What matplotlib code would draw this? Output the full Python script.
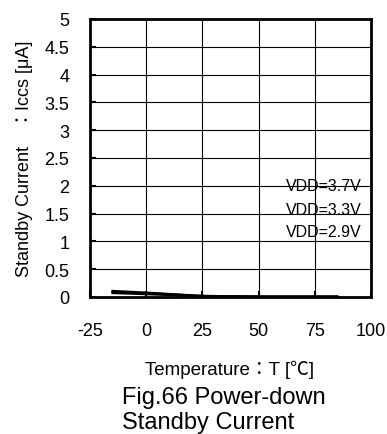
import matplotlib
matplotlib.use("Agg")
import matplotlib.pyplot as plt

plt.rcParams["font.family"] = ["Liberation Sans", "Noto Sans CJK JP", "DejaVu Sans"]
plt.rcParams["axes.unicode_minus"] = False

# 温度 [℃]
temps = [-15, 0, 25, 50, 75, 85]
# 待机电流 [μA]
iccs_37 = [0.11, 0.08, 0.02, 0.01, 0.01, 0.01]
iccs_33 = [0.09, 0.07, 0.02, 0.01, 0.01, 0.01]
iccs_29 = [0.07, 0.05, 0.01, 0.00, 0.00, 0.00]
vdd_labels = ["VDD=3.7V", "VDD=3.3V", "VDD=2.9V"]
label_y = [2.0, 1.58, 1.18]

x_ticks = [-25, 0, 25, 50, 75, 100]
y_ticks = [0, 0.5, 1, 1.5, 2, 2.5, 3, 3.5, 4, 4.5, 5]

fig = plt.figure(figsize=(3.87, 4.35), dpi=100)
ax = fig.add_axes([90 / 387, 1 - 298 / 435, 281 / 387, 278 / 435])

for vals in (iccs_37, iccs_33, iccs_29):
    ax.plot(temps, vals, color="black", linewidth=1.5)

for lab, yv in zip(vdd_labels, label_y):
    ax.text(96, yv, lab, ha="right", va="center", fontsize=11.5)

ax.set_xlim(-25, 100)
ax.set_ylim(0, 5)
ax.set_xticks(x_ticks)
ax.set_yticks(y_ticks)
ax.set_yticklabels([f"{v:g}" for v in y_ticks])
ax.grid(True, color="black", linewidth=0.8)
ax.tick_params(direction="in", length=4, width=1.5, labelsize=13)
ax.tick_params(axis="x", pad=18)
ax.tick_params(axis="y", pad=15)
for s in ax.spines.values():
    s.set_linewidth(2)

ax.set_ylabel("Standby Current\u3000：Iccs [μA]", fontsize=13, labelpad=8)
fig.text(230 / 387, 1 - 370 / 435, "Temperature：T [℃]", ha="center", va="center", fontsize=13.5)
fig.text(122 / 387, 1 - 398 / 435, "Fig.66 Power-down", ha="left", va="center", fontsize=17)
fig.text(122 / 387, 1 - 423 / 435, "Standby Current", ha="left", va="center", fontsize=17)

plt.savefig("out.png", dpi=100)
